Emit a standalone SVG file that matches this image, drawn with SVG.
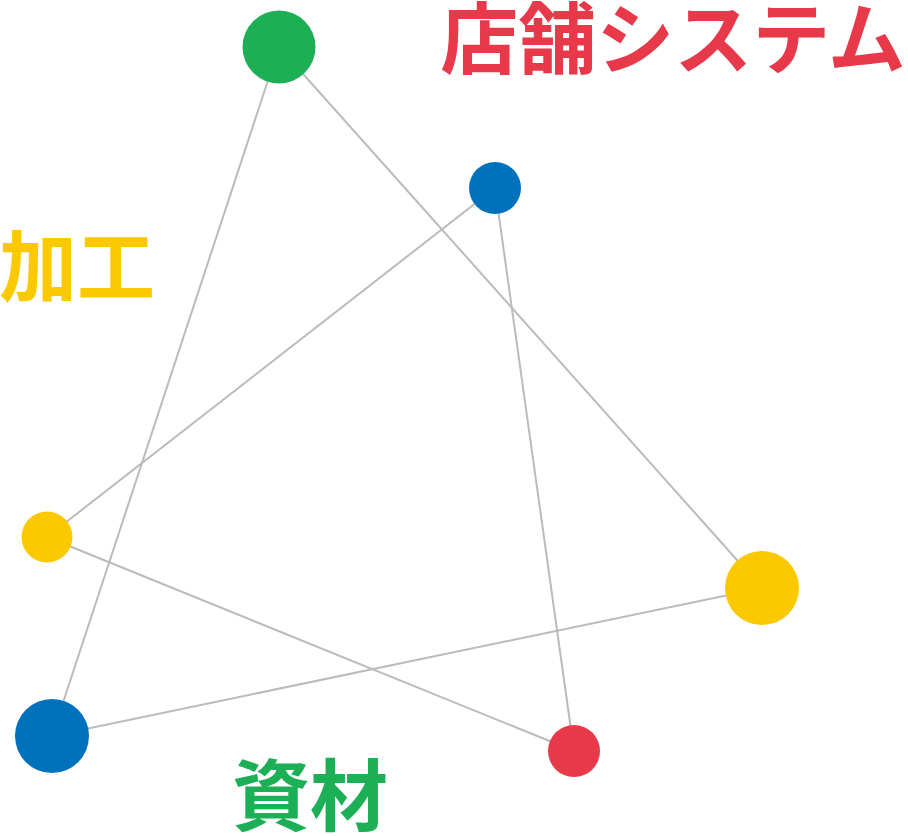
<svg xmlns="http://www.w3.org/2000/svg" width="908" height="836" viewBox="0 0 908 836">
<style>
.edge{stroke:#bbbbbb;stroke-width:2;fill:none}
.lbl{font-family:"Noto Sans CJK JP","Noto Sans",sans-serif;font-weight:bold;font-size:78px;text-anchor:middle}
</style>
<rect width="908" height="836" fill="#ffffff"/>
<g id="connectors">
<line class="edge" x1="279" y1="47" x2="52" y2="736"/>
<line class="edge" x1="279" y1="47" x2="762" y2="588"/>
<line class="edge" x1="495" y1="188" x2="47" y2="537"/>
<line class="edge" x1="495" y1="188" x2="574" y2="751"/>
<line class="edge" x1="47" y1="537" x2="574" y2="751"/>
<line class="edge" x1="52" y1="736" x2="762" y2="588"/>
</g>
<g id="n-green"><circle cx="279" cy="47" r="36.5" fill="#1daf56"/></g>
<g id="n-blue-small"><circle cx="495" cy="188" r="26" fill="#0071bc"/></g>
<g id="n-yellow-small"><circle cx="47" cy="537" r="25.5" fill="#fcc800"/></g>
<g id="n-yellow-big"><circle cx="762" cy="588" r="37" fill="#fcc800"/></g>
<g id="n-blue-big"><circle cx="52" cy="736" r="37" fill="#0071bc"/></g>
<g id="n-red"><circle cx="574" cy="751" r="26" fill="#e8394a"/></g>
<g id="t-store"><text class="lbl" x="673" y="68" fill="#e8394a">店舗システム</text></g>
<g id="t-kako"><text class="lbl" x="77" y="296" fill="#fcc800">加工</text></g>
<g id="t-shizai"><text class="lbl" x="310" y="825" fill="#1daf56">資材</text></g>
</svg>
